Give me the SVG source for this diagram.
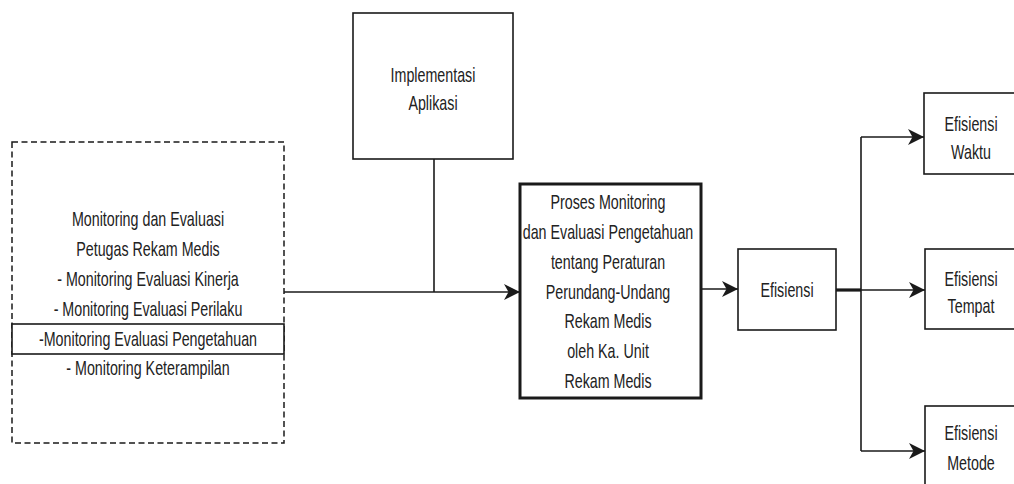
<svg xmlns="http://www.w3.org/2000/svg" width="1014" height="484" viewBox="0 0 1014 484">
<style>
.box{fill:#fff;stroke:#1a1a1a;stroke-width:1.6}
.thick{fill:#fff;stroke:#1a1a1a;stroke-width:3}
.dash{fill:#fff;stroke:#1a1a1a;stroke-width:1.5;stroke-dasharray:6 3.5}
.ln{fill:none;stroke:#1a1a1a;stroke-width:1.6}
.lnb{fill:none;stroke:#1a1a1a;stroke-width:3.2}
text{font-family:"Liberation Sans",Arial,sans-serif;font-size:21px;fill:#222;text-anchor:middle}
</style>
<defs>
<marker id="arr" markerUnits="userSpaceOnUse" markerWidth="17" markerHeight="16" refX="16" refY="8" orient="auto">
<path d="M0,0 L16,8 L0,16 L4.5,8 Z" fill="#1a1a1a"/>
</marker>
</defs>
<rect width="1014" height="484" fill="#fff"/>
<g id="connectors">
<path class="ln" d="M284,292 H520" marker-end="url(#arr)"/>
<path class="ln" d="M434,159 V292"/>
<path class="ln" d="M701,289 H738" marker-end="url(#arr)"/>
<path class="lnb" d="M836,290 H861"/>
<path class="ln" d="M861,137 V451"/>
<path class="ln" d="M861,137 H924" marker-end="url(#arr)"/>
<path class="ln" d="M861,290 H925" marker-end="url(#arr)"/>
<path class="ln" d="M861,451 H925" marker-end="url(#arr)"/>
</g>
<g id="node-monev">
<rect class="dash" x="12" y="142" width="272" height="301"/>
<rect class="box" x="12" y="324" width="272" height="30"/>
<g transform="translate(148 0) scale(0.68 1)">
<text x="0" y="226">Monitoring dan Evaluasi</text>
<text x="0" y="256">Petugas Rekam Medis</text>
<text x="0" y="286">- Monitoring Evaluasi Kinerja</text>
<text x="0" y="316">- Monitoring Evaluasi Perilaku</text>
<text x="0" y="346">-Monitoring Evaluasi Pengetahuan</text>
<text x="0" y="375">- Monitoring Keterampilan</text>
</g>
</g>
<g id="node-implementasi">
<rect class="box" x="353" y="13" width="160" height="146"/>
<g transform="translate(433 0) scale(0.68 1)">
<text x="0" y="82">Implementasi</text>
<text x="0" y="110">Aplikasi</text>
</g>
</g>
<g id="node-proses">
<rect class="thick" x="520" y="184" width="181" height="214"/>
<g transform="translate(608 0) scale(0.68 1)">
<text x="0" y="209">Proses Monitoring</text>
<text x="0" y="239">dan Evaluasi Pengetahuan</text>
<text x="0" y="269">tentang Peraturan</text>
<text x="0" y="299">Perundang-Undang</text>
<text x="0" y="328">Rekam Medis</text>
<text x="0" y="358">oleh Ka. Unit</text>
<text x="0" y="388">Rekam Medis</text>
</g>
</g>
<g id="node-efisiensi">
<rect class="box" x="738" y="249" width="98" height="81"/>
<g transform="translate(787 0) scale(0.68 1)">
<text x="0" y="297">Efisiensi</text>
</g>
</g>
<g id="node-waktu">
<rect class="box" x="924" y="93" width="100" height="81"/>
<g transform="translate(971 0) scale(0.68 1)">
<text x="0" y="131">Efisiensi</text>
<text x="0" y="159">Waktu</text>
</g>
</g>
<g id="node-tempat">
<rect class="box" x="925" y="249" width="100" height="80"/>
<g transform="translate(971 0) scale(0.68 1)">
<text x="0" y="286">Efisiensi</text>
<text x="0" y="313">Tempat</text>
</g>
</g>
<g id="node-metode">
<rect class="box" x="925" y="406" width="100" height="100"/>
<g transform="translate(971 0) scale(0.68 1)">
<text x="0" y="440">Efisiensi</text>
<text x="0" y="470">Metode</text>
</g>
</g>
</svg>
